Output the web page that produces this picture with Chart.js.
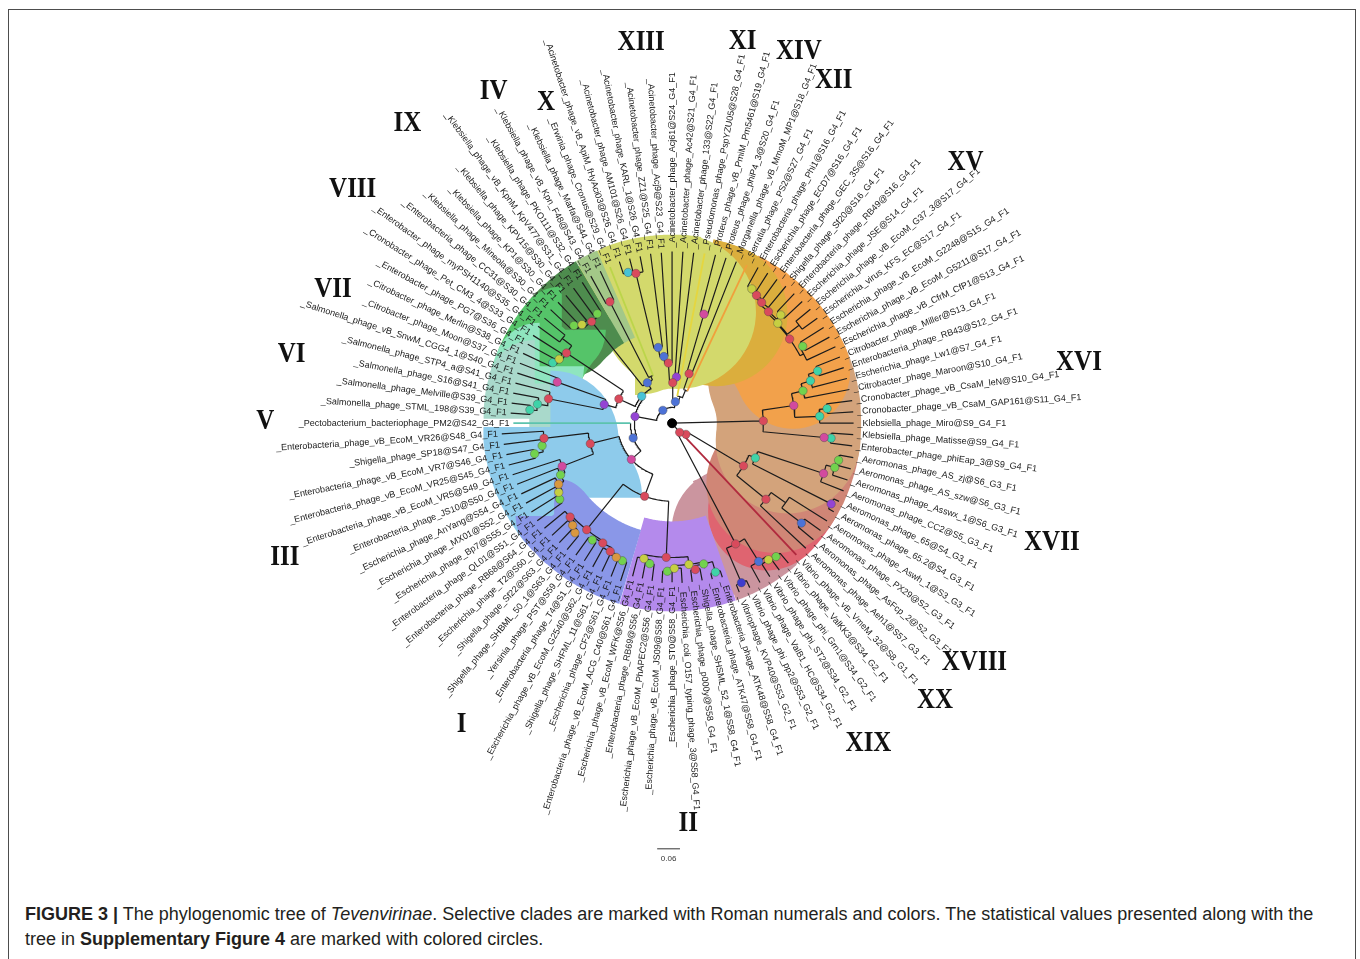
<!DOCTYPE html>
<html>
<head>
<meta charset="utf-8">
<title>Phylogenomic tree of Tevenvirinae</title>
<script src="https://cdn.jsdelivr.net/npm/chart.js@4.4.1/dist/chart.umd.min.js"></script>
<style>
  body { margin: 0; background: #fff; }
  #page { position: relative; width: 1360px; height: 959px; overflow: hidden; }
  #frame { position: absolute; left: 8px; top: 9px; width: 1346px; height: 1000px; border: 1px solid #4d4d4d; border-bottom: none; }
  #tree { position: absolute; left: 0; top: 0; }
  #caption { position: absolute; left: 25px; top: 902px; font: 18px/25px "Liberation Sans", Arial, sans-serif; color: #231f20; white-space: nowrap; }
</style>
</head>
<body>
<div id="page">
  <div id="frame"></div>
  <canvas id="tree" width="1360" height="880"></canvas>
  <div id="caption"><b>FIGURE 3 |</b> The phylogenomic tree of <i>Tevenvirinae</i>. Selective clades are marked with Roman numerals and colors. The statistical values presented along with the<br>tree in <b>Supplementary Figure 4</b> are marked with colored circles.</div>
</div>
<script>
// tip labels, numbered 1..100 clockwise starting at the Pectobacterium tip (9 o'clock)
const leafNames = [
  "_Pectobacterium_bacteriophage_PM2@S42_G4_F1",
  "_Salmonella_phage_STML_198@S39_G4_F1",
  "_Salmonella_phage_Melville@S39_G4_F1",
  "_Salmonella_phage_S16@S41_G4_F1",
  "_Salmonella_phage_STP4_a@S41_G4_F1",
  "_Salmonella_phage_vB_SnwM_CGG4_1@S40_G4_F1",
  "_Citrobacter_phage_Moon@S37_G4_F1",
  "_Citrobacter_phage_Merlin@S38_G4_F1",
  "_Enterobacter_phage_PG7@S36_G4_F1",
  "_Cronobacter_phage_Pet_CM3_4@S33_G4_F1",
  "_Enterobacter_phage_myPSH1140@S35_G4_F1",
  "_Enterobacteria_phage_CC31@S30_G4_F1",
  "_Klebsiella_phage_Mineola@S30_G4_F1",
  "_Klebsiella_phage_KP1@S30_G4_F1",
  "_Klebsiella_phage_KPV15@S30_G4_F1",
  "_Klebsiella_phage_vB_KpnM_KpV477@S31_G4_F1",
  "_Klebsiella_phage_PKO111@S32_G4_F1",
  "_Klebsiella_phage_vB_Kpn_F48@S43_G4_F1",
  "_Klebsiella_phage_Marfa@S44_G4_F1",
  "_Erwinia_phage_Cronus@S29_G4_F1",
  "_Acinetobacter_phage_vB_ApiM_fHyAci03@S26_G4_F1",
  "_Acinetobacter_phage_AM101@S26_G4_F1",
  "_Acinetobacter_phage_KARL_1@S26_G4_F1",
  "_Acinetobacter_phage_ZZ1@S25_G4_F1",
  "_Acinetobacter_phage_Acj9@S23_G4_F1",
  "_Acinetobacter_phage_Acj61@S24_G4_F1",
  "_Acinetobacter_phage_Ac42@S21_G4_F1",
  "_Acinetobacter_phage_133@S22_G4_F1",
  "_Pseudomonas_phage_PspYZU05@S28_G4_F1",
  "_Proteus_phage_vB_PmiM_Pm5461@S19_G4_F1",
  "_Proteus_phage_phiP4_3@S20_G4_F1",
  "_Morganella_phage_vB_MmoM_MP1@S18_G4_F1",
  "_Serratia_phage_PS2@S27_G4_F1",
  "_Enterobacteria_phage_Phi1@S16_G4_F1",
  "_Escherichia_phage_ECD7@S16_G4_F1",
  "_Enterobacteria_phage_GEC_3S@S16_G4_F1",
  "_Shigella_phage_Sf20@S16_G4_F1",
  "_Enterobacteria_phage_RB49@S16_G4_F1",
  "_Escherichia_phage_JSE@S14_G4_F1",
  "_Escherichia_phage_vB_EcoM_G37_3@S17_G4_F1",
  "_Escherichia_virus_KFS_EC@S17_G4_F1",
  "_Escherichia_phage_vB_EcoM_G2248@S15_G4_F1",
  "_Escherichia_phage_vB_EcoM_G5211@S17_G4_F1",
  "_Escherichia_phage_vB_CfrM_CfP1@S13_G4_F1",
  "_Citrobacter_phage_Miller@S13_G4_F1",
  "_Enterobacteria_phage_RB43@S12_G4_F1",
  "_Escherichia_phage_Lw1@S7_G4_F1",
  "_Citrobacter_phage_Maroon@S10_G4_F1",
  "_Cronobacter_phage_vB_CsaM_leN@S10_G4_F1",
  "_Cronobacter_phage_vB_CsaM_GAP161@S11_G4_F1",
  "_Klebsiella_phage_Miro@S9_G4_F1",
  "_Klebsiella_phage_Matisse@S9_G4_F1",
  "_Enterobacter_phage_phiEap_3@S9_G4_F1",
  "_Aeromonas_phage_AS_zj@S6_G3_F1",
  "_Aeromonas_phage_AS_szw@S6_G3_F1",
  "_Aeromonas_phage_Asswx_1@S6_G3_F1",
  "_Aeromonas_phage_CC2@S5_G3_F1",
  "_Aeromonas_phage_65@S4_G3_F1",
  "_Aeromonas_phage_65.2@S4_G3_F1",
  "_Aeromonas_phage_Aswh_1@S3_G3_F1",
  "_Aeromonas_phage_PX29@S2_G3_F1",
  "_Aeromonas_phage_AsFcp_2@S2_G3_F1",
  "_Aeromonas_phage_Aeh1@S57_G3_F1",
  "_Vibrio_phage_vB_VmeM_32@S8_G1_F1",
  "_Vibrio_phage_ValKK3@S34_G2_F1",
  "_Vibrio_phage_phi_Grn1@S34_G2_F1",
  "_Vibrio_phage_phi_ST2@S34_G2_F1",
  "_Vibrio_phage_ValB1_HC@S34_G2_F1",
  "_Vibrio_phage_phi_pp2@S53_G2_F1",
  "_Vibriophage_KVP40@S53_G2_F1",
  "_Enterobacteria_phage_ATK48@S58_G4_F1",
  "_Enterobacteria_phage_ATK47@S58_G4_F1",
  "_Shigella_phage_SHSML_52_1@S58_G4_F1",
  "_Escherichia_phage_p000y@S58_G4_F1",
  "_Escherichia_coli_O157_typing_phage_3@S58_G4_F1",
  "_Escherichia_phage_ST0@S58_G4_F1",
  "_Escherichia_phage_vB_EcoM_JS09@S58_G4_F1",
  "_Escherichia_phage_vB_EcoM_PhAPEC2@S56_G4_F1",
  "_Enterobacteria_phage_RB69@S56_G4_F1",
  "_Escherichia_phage_vB_EcoM_WFK@S56_G4_F1",
  "_Enterobacteria_phage_vB_EcoM_ACG_C40@S61_G4_F1",
  "_Escherichia_phage_CF2@S61_G4_F1",
  "_Shigella_phage_SHFML_11@S61_G4_F1",
  "_Escherichia_phage_vB_EcoM_G2540@S62_G4_F1",
  "_Enterobacteria_phage_T4@S1_G4_F1",
  "_Yersinia_phage_PST@S59_G4_F1",
  "_Shigella_phage_SHBML_50_1@S63_G4_F1",
  "_Shigella_phage_Sf22@S63_G4_F1",
  "_Escherichia_phage_T2@S60_G4_F1",
  "_Enterobacteria_phage_RB68@S64_G4_F1",
  "_Enterobacteria_phage_QL01@S51_G4_F1",
  "_Escherichia_phage_Bp7@S55_G4_F1",
  "_Escherichia_phage_MX01@S52_G4_F1",
  "_Escherichia_phage_AnYang@S54_G4_F1",
  "_Enterobacteria_phage_JS10@S50_G4_F1",
  "_Enterobacteria_phage_vB_EcoM_VR5@S49_G4_F1",
  "_Enterobacteria_phage_vB_EcoM_VR25@S45_G4_F1",
  "_Enterobacteria_phage_vB_EcoM_VR7@S46_G4_F1",
  "_Shigella_phage_SP18@S47_G4_F1",
  "_Enterobacteria_phage_vB_EcoM_VR26@S48_G4_F1"
];

// clades
const cladeNames       = ["I", "II", "III", "IV", "V", "VI", "VII", "VIII", "IX", "X", "XI", "XII", "XIII", "XIV", "XV", "XVI", "XVII", "XVIII", "XIX", "XX"];
const cladeFirstLeaf   = [81, 71, 91, 18, 1, 2, 6, 8, 13, 20, 29, 33, 21, 30, 34, 45, 54, 60, 65, 64];
const cladeLastLeaf    = [90, 80, 100, 19, 1, 5, 7, 12, 17, 20, 29, 33, 28, 32, 44, 53, 59, 63, 70, 64];
const cladeColors      = ["#8a97e8", "#b48aec", "#8ecbeb", "#a3c888", "#5cc3ae", "#a9d9cb", "#8fe5bf", "#55c469", "#4e8c4e", "#bcd54a",
                          "#e5d63f", "#f0a03c", "#d3d96c", "#dbae3d", "#f2a14b", "#d3a37b", "#d08676", "#df6470", "#cb959f", "#b02a3e"];
// inner edge of the highlight wedge (0 = single tip clade, drawn as a coloured branch)
const cladeInnerRadius = [113, 100, 56, 95, 0, 98, 101, 102, 95, 0, 0, 0, 36, 47, 75, 46, 52, 72, 63, 0];
const cladeLabelAngle  = [-124.9, -87.7, -160.9, 118.1, 179.6, 169.5, 158.3, 143.6, 131.2, 111.3, 79.6, 64.9, 94.6, 71.3, 41.8, 8.7, -17.3, -38.4, -58.5, -46.5];
const cladeLabelRadius = [371, 405, 413, 382, 410, 390, 368, 400, 405, 350, 394, 384, 388, 399, 397, 415, 401, 389, 379, 385];

// support circles on the nodes
const nodeColors = { R: "#d94a5c", M: "#d24a9f", B: "#4d72d6", C: "#47c3d6", T: "#3fd3a8", G: "#72d24e",
                     Y: "#c6cf42", O: "#d99840", P: "#9444d4", D: "#3d3ccd" };

// subtrees: "(a,b)mark:depth", tips are leaf numbers, depth = distance from the root
const treeI    = "(((((81:168,82:167)G:148,83:166)O:147,84:166)R:144,(85:165,86:165)G:143)R:140,(((87:166,88:166)O:148,89:166)O:144,90:167)R:140)R:138";
const treeII   = "((((71:164,72:163)T:157,(73:162,74:162)R:150)G:146,(75:162,(76:161,77:162)G:150)Y:147)Y:144,((78:161,79:160)G:144,80:160)Y:140)R:136";
const treeIII  = "((((((91:168,92:168)G:137,93:168)Y:134,94:168)O:130,95:168)G:124,96:169)M:119,(((97:170,98:170)G:142,99:171)G:133,100:172)R:130)R:85";
const treeIV   = "(18:170,19:170)R:138";
const treeVI   = "(((2:163,3:163)T:144,4:163)T:137,5:163)R:127";
const treeVII  = "(6:164,7:165)M:123";
const treeVIII = "(((8:166,9:166)T:135,10:166)Y:131,(11:167,12:167)-:140)R:128";
const treeIX   = "(((13:168,14:168)G:140,15:168)Y:135,(16:169,17:169)G:134)R:131";
const treeXIII = "((((((21:172,22:172)C:159,23:172)R:156,24:173)B:78,25:173)B:68,26:174)R:61,(27:174,28:174)P:47)R:41";
const treeXIV  = "((30:176,31:176)M:115,32:176)R:53";
const treeXV   = "((((((34:180,35:180)Y:158,36:180)R:155,37:180)R:152,(38:180,39:180)Y:155)R:149,(40:181,41:181)-:162)Y:147,((42:181,43:181)G:153,44:182)-:150)R:146";
const treeXVI  = "((((((45:182,46:182)T:156,47:182)T:146,48:182)G:136,((49:183,50:183)T:157,51:183)T:149)M:124,((52:183,53:183)T:161)M:154)R:92";
const treeXVII = "((((54:186,55:186)G:172,56:186)G:170,57:186)M:161,(58:186,59:186)P:180)T:91";
const treeXVIII = "((60:185,(61:185,62:185)B:165)-:140,63:185)R:122";
const treeXIX  = "((((65:184,66:184)G:171,67:184)Y:169,68:184)B:165,(69:184,70:184)D:176)R:138";

const treeLeft = `(((((${treeII},${treeI})R:79,${treeIII})M:55,1:160)B:42,(((${treeVI},${treeVII})P:71,${treeVIII})R:59,(${treeIX},(${treeIV},20:170)-:52)B:48)C:41)P:38,(${treeXIII},(29:175,(${treeXIV},33:177)-:36)-:28)B:22)B:16`;
const treeRight = `(((${treeXVII},${treeXVIII})R:84,64:183)R:18,${treeXIX})R:12`;
const treeNewick = `(${treeLeft},${treeXV},${treeXVI},${treeRight})K:0;`;

const leafStep = 3.6;       // degrees between neighbouring tips
const ringStartLeaf = 71;   // tree order starts here, so tips >= 71 are unwrapped by 360
const wedgeOuter = 190;
const labelGap = 4;
const scaleBarValue = 0.06;
const pxPerUnit = 383;
const scaleBarStart = [-15, -431];

function parseTree(s) {
  let i = 0;
  function node() {
    const n = { children: [] };
    if (s[i] === "(") {
      i++;
      n.children.push(node());
      while (s[i] === ",") { i++; n.children.push(node()); }
      i++;
    }
    let label = "";
    while (i < s.length && !":,);".includes(s[i])) label += s[i++];
    if (s[i] === ":") {
      i++;
      let d = "";
      while (i < s.length && !",);".includes(s[i])) d += s[i++];
      n.depth = parseFloat(d);
    }
    if (n.children.length) n.mark = label; else n.leaf = parseInt(label, 10);
    return n;
  }
  return node();
}

function leafAngle(n) {
  return 180 - (n - 1) * leafStep + (n >= ringStartLeaf ? 360 : 0);
}

function pt(r, a) {
  const t = a * Math.PI / 180;
  return { x: r * Math.cos(t), y: r * Math.sin(t) };
}

const tree = parseTree(treeNewick);
const leaves = {};
function layout(n, parentDepth) {
  n.parentDepth = parentDepth;
  if (!n.children.length) { n.angle = leafAngle(n.leaf); leaves[n.leaf] = n; return; }
  n.children.forEach(c => layout(c, n.depth));
  n.angle = n.children.reduce((s, c) => s + c.angle, 0) / n.children.length;
}
layout(tree, 0);

const singleTips = cladeFirstLeaf.filter((f, i) => f === cladeLastLeaf[i]);
const gap = { x: null, y: null };
const branchPts = [];
const nodePts = [];
const nodeFill = [];

function walk(n) {
  if (!n.children.length) return;
  const angles = n.children.map(c => c.angle);
  const a1 = Math.max(...angles), a2 = Math.min(...angles);
  if (n.depth > 0 && a1 > a2) {
    const steps = Math.max(1, Math.ceil(a1 - a2));
    for (let k = 0; k <= steps; k++) branchPts.push(pt(n.depth, a1 - (a1 - a2) * k / steps));
    branchPts.push(gap);
  }
  n.children.forEach(c => {
    if (!(c.leaf && singleTips.includes(c.leaf))) {
      branchPts.push(pt(n.depth, c.angle), pt(c.depth, c.angle), gap);
    }
    walk(c);
  });
  if (nodeColors[n.mark]) {
    nodePts.push(pt(n.depth, n.angle));
    nodeFill.push(nodeColors[n.mark]);
  }
}
walk(tree);

const datasets = [];

// highlight wedges: a thick arc through the middle of each clade's sector
cladeNames.forEach((name, i) => {
  const f = cladeFirstLeaf[i], l = cladeLastLeaf[i];
  if (f === l) return;
  const a1 = leafAngle(f) + leafStep / 2, a2 = leafAngle(l) - leafStep / 2;
  const rm = (cladeInnerRadius[i] + wedgeOuter) / 2;
  const steps = Math.ceil((a1 - a2) / 0.5);
  const pts = [];
  for (let k = 0; k <= steps; k++) pts.push(pt(rm, a1 - (a1 - a2) * k / steps));
  datasets.push({
    type: "line", label: name, data: pts, borderColor: cladeColors[i],
    borderWidth: wedgeOuter - cladeInnerRadius[i], borderCapStyle: "butt", borderJoinStyle: "round",
    pointRadius: 0, fill: false, tension: 0, order: 6
  });
});

datasets.push({
  type: "line", label: "branches", data: branchPts, borderColor: "#1c1c1c", borderWidth: 1.2,
  pointRadius: 0, fill: false, tension: 0, spanGaps: false, order: 5
});

// single tip clades: the tip branch itself carries the clade colour
cladeNames.forEach((name, i) => {
  if (cladeFirstLeaf[i] !== cladeLastLeaf[i]) return;
  const leaf = leaves[cladeFirstLeaf[i]];
  datasets.push({
    type: "line", label: name, data: [pt(leaf.parentDepth, leaf.angle), pt(leaf.depth, leaf.angle)],
    borderColor: cladeColors[i], borderWidth: 1.8, pointRadius: 0, fill: false, order: 4
  });
});

datasets.push({
  type: "line", label: "scale", borderColor: "#333", borderWidth: 1, pointRadius: 0, order: 4,
  data: [{ x: scaleBarStart[0], y: scaleBarStart[1] }, { x: scaleBarStart[0] + scaleBarValue * pxPerUnit, y: scaleBarStart[1] }]
});

datasets.push({
  type: "scatter", label: "nodes", data: nodePts, pointRadius: 4.2, pointBackgroundColor: nodeFill,
  pointBorderColor: "rgba(70,70,70,0.8)", pointBorderWidth: 0.5, order: 2
});

datasets.push({
  type: "scatter", label: "root", data: [{ x: 0, y: 0 }], pointRadius: 4.5,
  pointBackgroundColor: "#000", pointBorderColor: "#000", order: 1
});

const textPlugin = {
  id: "treeText",
  afterDatasetsDraw(chart) {
    const { ctx, scales: { x, y } } = chart;
    ctx.save();
    ctx.fillStyle = "#1a1a1a";
    ctx.font = '9px "Liberation Sans", Arial, sans-serif';
    ctx.textBaseline = "middle";
    leafNames.forEach((name, i) => {
      const leaf = leaves[i + 1];
      const p = pt(leaf.depth + labelGap, leaf.angle);
      const a = ((leaf.angle % 360) + 360) % 360;
      const flipped = a > 90 && a <= 270;
      ctx.save();
      ctx.translate(x.getPixelForValue(p.x), y.getPixelForValue(p.y));
      if (flipped) {
        ctx.rotate((180 - leaf.angle) * Math.PI / 180);
        ctx.textAlign = "right";
      } else {
        ctx.rotate(-leaf.angle * Math.PI / 180);
        ctx.textAlign = "left";
      }
      ctx.fillText(name, 0, 0);
      ctx.restore();
    });

    ctx.fillStyle = "#111";
    ctx.font = 'bold 25px "Liberation Serif", "Times New Roman", serif';
    ctx.textAlign = "center";
    cladeNames.forEach((name, i) => {
      const p = pt(cladeLabelRadius[i], cladeLabelAngle[i]);
      ctx.save();
      ctx.translate(x.getPixelForValue(p.x), y.getPixelForValue(p.y));
      ctx.scale(1, 1.15);
      ctx.fillText(name, 0, 1);
      ctx.restore();
    });

    ctx.fillStyle = "#333";
    ctx.font = '8px "Liberation Sans", Arial, sans-serif';
    ctx.fillText(String(scaleBarValue), x.getPixelForValue(scaleBarStart[0] + scaleBarValue * pxPerUnit / 2),
                 y.getPixelForValue(scaleBarStart[1] - 10));
    ctx.restore();
  }
};

new Chart(document.getElementById("tree"), {
  type: "scatter",
  data: { datasets },
  options: {
    responsive: false,
    animation: false,
    events: [],
    layout: { padding: 0 },
    plugins: { legend: { display: false }, tooltip: { enabled: false } },
    scales: {
      x: { type: "linear", min: -672, max: 688, display: false },
      y: { type: "linear", min: -457, max: 423, display: false }
    }
  },
  plugins: [textPlugin]
});
</script>
</body>
</html>
